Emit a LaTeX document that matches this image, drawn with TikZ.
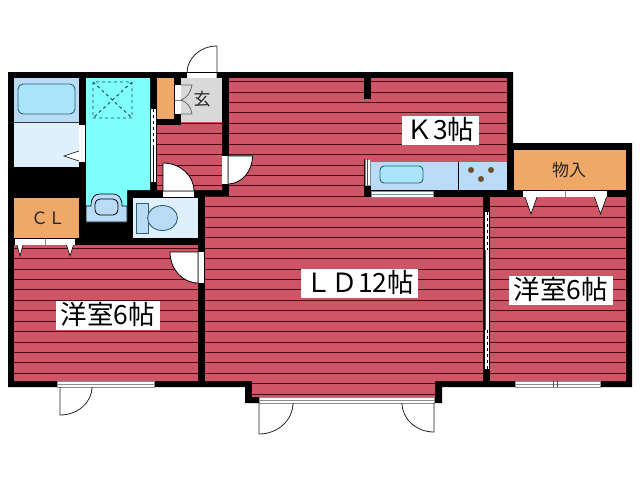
\documentclass[tikz,border=0pt]{standalone}
\usepackage{fontspec}
\setmainfont{Noto Sans CJK JP}
\definecolor{floorred}{HTML}{CE5566}
\definecolor{stripedark}{HTML}{4A0A16}
\definecolor{washcyan}{HTML}{80FFFF}
\definecolor{palecyan}{HTML}{A9E5FA}
\definecolor{paleblue}{HTML}{DDF0FB}
\definecolor{midblue}{HTML}{B9DBF8}
\definecolor{closetorange}{HTML}{EFA868}
\definecolor{halltone}{HTML}{D9D9D9}
\definecolor{edgeteal}{HTML}{2F5F70}
\definecolor{burnerbrown}{HTML}{7A4A20}
\newcommand{\floorrooms}{(229,78) -- (507,78) -- (507,162) -- (371,162) -- (371,159) -- (364,159) -- (364,197)
  -- (483,197) -- (483,381) -- (435,381) -- (435,397) -- (252,397) -- (252,381) -- (205,381) -- (205,196) -- (229,196) -- cycle
  (14,245) -- (198,245) -- (198,381) -- (14,381) -- cycle
  (490,197) -- (626,197) -- (626,381) -- (490,381) -- cycle
  (157,125) -- (181,125) -- (181,122) -- (222,122) -- (222,190) -- (157,190) -- cycle}
\tikzset{
  roomlabel/.style={fill=white,font=\fontsize{26.5}{27}\selectfont,inner xsep=4.5pt,inner ysep=0pt,text height=24pt,text depth=5pt},
  smalllabel/.style={font=\fontsize{17}{17}\selectfont,text=black!85,inner sep=0pt},
  doorleaf/.style={draw=black,fill=white,line width=.8pt},
  doorswing/.style={draw=black!85,line width=.8pt},
  gapwhite/.style={fill=white,draw=black!45,line width=.6pt},
  fixture/.style={draw=edgeteal,line width=.9pt},
}
\begin{document}
\begin{tikzpicture}[x=1pt,y=-1pt]
  \useasboundingbox (0,0) rectangle (640,480);
  % walls as one black block
  \fill [black] (8,72) -- (513,72) -- (513,143) -- (632,143) -- (632,387) -- (442,387) -- (442,403)
    -- (245,403) -- (245,387) -- (8,387) -- cycle;

  % floors
  \fill [floorred] \floorrooms;
  \begin{scope}
    \clip \floorrooms;
    \foreach \row in {0,...,30}
      \draw [stripedark,line width=.9pt] (0,81.7+10.41*\row) -- (640,81.7+10.41*\row);
  \end{scope}
  \fill [black] (364,78) rectangle (371,99);

  % bath
  \fill [midblue] (14,78) rectangle (79,122);
  \fill [paleblue] (14,122) rectangle (79,167);
  \draw [black!80,line width=.7pt] (14,122) -- (79,122);
  \draw [fixture,fill=palecyan,rounded corners=5pt] (18,84) rectangle (75,114);
  \fill [white] (79,125) rectangle (85,162);
  \draw [black,fill=white,line width=.6pt] (79,151) -- (64,156) -- (79,161);

  % washroom
  \fill [washcyan] (86,78) -- (150,78) -- (150,190) -- (127,190) -- (127,222) -- (86,222) -- cycle;
  \draw [black,fill=midblue,line width=.7pt] (86,206) -- (91,206) .. controls (91,197) and (95,194) .. (100,194)
    -- (113,194) .. controls (118,194) and (122,197) .. (122,206) -- (127,206) -- (127,222) -- (86,222) -- cycle;
  \draw [black,rounded corners=5pt,fill=midblue,line width=.8pt] (95,199) rectangle (118,215);
  \draw [edgeteal!70!black,dashed,line width=.9pt] (93,82) rectangle (132,118) (93,82) -- (132,118) (132,82) -- (93,118);
  \fill [white] (151,109) rectangle (156,182);
  \draw [black,dashed,line width=.8pt] (153.5,109) -- (153.5,145);
  \draw [black,line width=.8pt] (153.5,145) -- (153.5,182);

  % toilet
  \fill [paleblue] (133,198) rectangle (198,238);
  \draw [fixture,fill=midblue] (136,203) rectangle (148,233);
  \draw [fixture,fill=midblue] (162.5,218) ellipse [x radius=15,y radius=12.5];

  % closet, storage
  \fill [closetorange] (14,198) rectangle (79,238);
  \fill [closetorange] (514,150) rectangle (626,190);
  \fill [closetorange] (157,78) rectangle (174,119);
  \fill [halltone] (181,78) rectangle (222,122);

  % sliding and folding doors
  \fill [white] (15,239) rectangle (75,245);
  \draw [black!50,line width=.6pt] (45,239) -- (45,245);
  \fill [white] (523,191) rectangle (607,197);
  \draw [black!50,line width=.6pt] (565,191) -- (565,197);
  \foreach \tipx/\topy/\tipy/\half in {20/245/256/3, 70/245/256/3.5, 531/197/214/6, 600.5/197/214/6}
    \draw [black,fill=white,line width=.6pt] (\tipx-\half,\topy) -- (\tipx,\tipy) -- (\tipx+\half,\topy);
  \fill [white] (485,212) rectangle (489,369);
  \draw [black,dashed,line width=.8pt] (487,212) -- (487,250);
  \draw [black,dashed,line width=.8pt] (487,330) -- (487,369);
  \draw [black!70,line width=.6pt] (485,250) -- (485,330);

  % kitchen
  \fill [midblue] (371,162) rectangle (507,190);
  \draw [black,line width=.7pt] (458,162) -- (458,190);
  \draw [fixture,fill=palecyan,rounded corners=4pt] (380,166) rectangle (423,183);
  \foreach \bx/\by in {471/170,491/170,481/179}
    \draw [black!70,fill=burnerbrown,line width=.4pt] (\bx,\by) circle (2.7);
  \draw [gapwhite] (365,159) rectangle (370,185);
  \draw [black!70,line width=.5pt] (367.5,159) -- (367.5,185);

  % windows in the outer wall
  \foreach \xa/\ya/\xb/\yb in {57/381/154/387, 259/397/434/403, 515/381/600/387, 371/191/433/197}
    {
      \draw [gapwhite] (\xa,\ya) rectangle (\xb,\yb);
      \draw [black!45,line width=.6pt] (\xa,\ya+3) -- (\xb,\ya+3);
    }
  \draw [black!70,line width=.6pt] (553,381) -- (553,387) (557,381) -- (557,387);

  % entrance
  \fill [white] (187,73) rectangle (217,78);
  \draw [doorswing] (217,78) -- (217,46) arc [start angle=-90,end angle=-180,x radius=30,y radius=27];
  \fill [white] (175,85) rectangle (181,114);
  \draw [black!50,line width=.6pt] (175,100) -- (181,100);
  \draw [black!60,line width=.8pt] (181,85) -- (192,85) .. controls (191,92) and (187,98) .. (181,100);
  \draw [black!60,line width=.8pt] (181,114) -- (192,114) .. controls (191,107) and (187,102) .. (181,100);

  % swing doors inside
  \fill [white] (163,191) rectangle (194,197);
  \draw [doorleaf] (163,191) -- (163,163) arc [start angle=-90,end angle=0,x radius=31,y radius=28] -- cycle;
  \draw [black!45,line width=.8pt] (163,191) -- (194,191);
  \fill [white] (198,252) rectangle (204,283);
  \draw [doorleaf] (198,252) -- (170,252) arc [start angle=180,end angle=90,x radius=28,y radius=31] -- cycle;
  \draw [black!50,line width=.8pt] (198,252) -- (198,283);
  \fill [white] (222,156) rectangle (228,184);
  \draw [doorleaf] (228,184) -- (228,156) -- (252.5,156) arc [start angle=0,end angle=90,x radius=24.5,y radius=28];
  \draw [black!50,line width=.8pt] (228,156) -- (228,184);

  % doors outside
  \draw [doorswing] (60,387) -- (60,415) arc [start angle=90,end angle=0,x radius=32,y radius=28];
  \draw [doorswing] (259,403) -- (259,434) arc [start angle=90,end angle=0,x radius=34,y radius=31];
  \draw [doorswing] (434,403) -- (434,432) arc [start angle=90,end angle=180,x radius=32,y radius=29];

  % texts
  \node [roomlabel] (kitchenname) at (440.5,130) {Ｋ3帖};
  \node [roomlabel] (livingname) at (359.5,283) {ＬＤ12帖};
  \node [roomlabel] (westroomname) at (108,315) {洋室6帖};
  \node [roomlabel] (eastroomname) at (561,290) {洋室6帖};
  \node [smalllabel] (closetname) at (48,218) {ＣＬ};
  \node [smalllabel] (storagename) at (569,170) {物入};
  \node [smalllabel] (hallname) at (202,99) {玄};
\end{tikzpicture}
\end{document}
